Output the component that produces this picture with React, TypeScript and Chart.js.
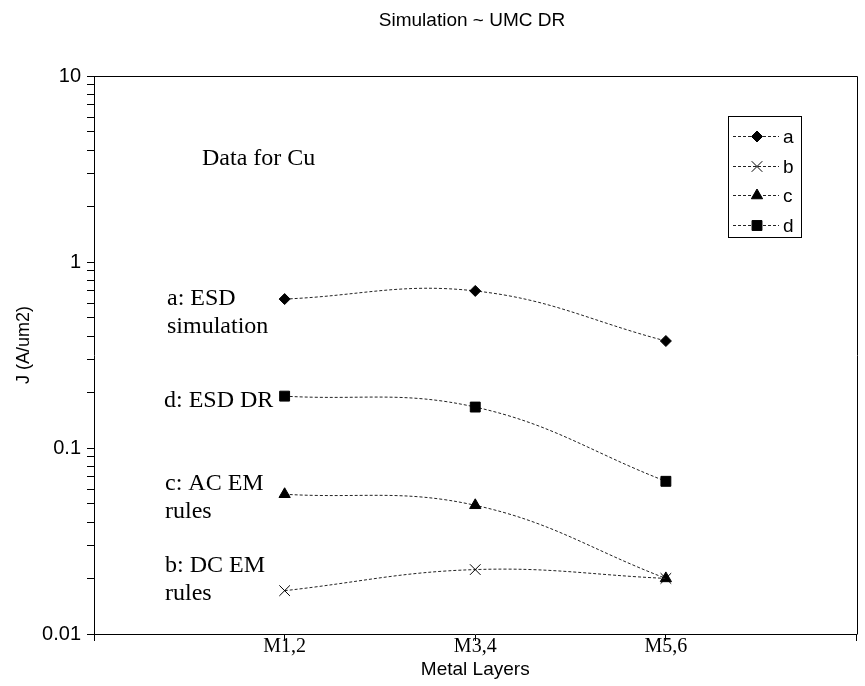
import { useEffect, useRef } from "react";
import { Chart, registerables } from "chart.js";
import { drawPoint } from "chart.js/helpers";

Chart.register(...registerables);

// Metal layer groups along the x axis
const categories = ["M1,2", "M3,4", "M5,6"];

// Current density limits J (A/um2) for copper
const seriesNames = ["a", "b", "c", "d"];
const seriesA = [0.632, 0.699, 0.376]; // ESD simulation
const seriesB = [0.0171, 0.0222, 0.0199]; // DC EM rules
const seriesC = [0.0564, 0.0492, 0.0199]; // AC EM rules
const seriesD = [0.19, 0.166, 0.0662]; // ESD DR

// Log axis decades; minor ticks at 2..9 of each decade
const yMajorTicks = [0.01, 0.1, 1, 10];
const yMinorSteps = [2, 3, 4, 5, 6, 7, 8, 9];

const titleText = "Simulation ~ UMC DR";
const xTitle = "Metal Layers";
const yTitle = "J (A/um2)";

const SANS = "'Liberation Sans', Arial, sans-serif";
const SERIF = "'Liberation Serif', 'Times New Roman', serif";

const pointStyles = ["rectRot", "crossRot", "triangle", "rect"] as const;
const pointRadii = [5.5, 7.5, 6.5, 7];

const toPoints = (vals: number[]) => vals.map((v, i) => ({ x: i + 1, y: v }));

// In-plot text notes: [text, left, baseline]
const notes: [string, number, number][] = [
  ["Data for Cu", 202, 165],
  ["a: ESD", 167, 305],
  ["simulation", 167, 333],
  ["d: ESD DR", 164, 407],
  ["c: AC EM", 165, 490],
  ["rules", 165, 518],
  ["b: DC EM", 165, 572],
  ["rules", 165, 600],
];

const framePlugin = {
  id: "frame",
  afterDraw(chart: any) {
    const { ctx, chartArea } = chart;
    ctx.save();
    ctx.strokeStyle = "#000";
    ctx.lineWidth = 1;
    ctx.beginPath();
    ctx.moveTo(Math.round(chartArea.left) + 0.5, Math.round(chartArea.top) + 0.5);
    ctx.lineTo(Math.round(chartArea.right) + 0.5, Math.round(chartArea.top) + 0.5);
    ctx.lineTo(Math.round(chartArea.right) + 0.5, Math.round(chartArea.bottom) + 0.5);
    ctx.stroke();

    // titles
    ctx.fillStyle = "#000";
    ctx.font = `19px ${SANS}`;
    ctx.textAlign = "center";
    ctx.textBaseline = "alphabetic";
    ctx.fillText(titleText, 472, 26);

    ctx.font = `19px ${SANS}`;
    ctx.fillText(xTitle, (chartArea.left + chartArea.right) / 2, 675);

    ctx.save();
    ctx.translate(29, 345);
    ctx.rotate(-Math.PI / 2);
    ctx.font = `18px ${SANS}`;
    ctx.fillText(yTitle, 0, 0);
    ctx.restore();

    // notes inside plot
    ctx.font = `24px ${SERIF}`;
    ctx.textAlign = "left";
    for (const [t, x, y] of notes) ctx.fillText(t, x, y);
    ctx.restore();
  },
};

const legendPlugin = {
  id: "boxLegend",
  afterDraw(chart: any) {
    const { ctx } = chart;
    const box = { left: 728, top: 116, right: 801, bottom: 237 };
    ctx.save();
    ctx.fillStyle = "#fff";
    ctx.fillRect(box.left, box.top, box.right - box.left, box.bottom - box.top);
    ctx.strokeStyle = "#000";
    ctx.lineWidth = 1;
    ctx.strokeRect(box.left + 0.5, box.top + 0.5, box.right - box.left, box.bottom - box.top);
    const rowH = 29.7;
    chart.data.datasets.forEach((ds: any, i: number) => {
      const y = Math.round(box.top + 20 + i * rowH) + 0.5;
      ctx.strokeStyle = "#222";
      ctx.setLineDash([3, 2]);
      ctx.beginPath();
      ctx.moveTo(box.left + 5, y);
      ctx.lineTo(box.left + 51, y);
      ctx.stroke();
      ctx.setLineDash([]);
      ctx.fillStyle = "#000";
      ctx.strokeStyle = "#000";
      drawPoint(
        ctx,
        { pointStyle: ds.pointStyle, radius: ds.pointRadius, rotation: 0, borderWidth: 1 } as any,
        box.left + 29,
        y
      );
      ctx.fillStyle = "#000";
      ctx.font = `19px ${SANS}`;
      ctx.textAlign = "left";
      ctx.textBaseline = "middle";
      ctx.fillText(ds.label, box.left + 55, y + 1);
    });
    ctx.restore();
  },
};

export default function App() {
  const ref = useRef<HTMLCanvasElement>(null);

  useEffect(() => {
    const canvas = ref.current;
    if (!canvas) return;
    const allSeries = [seriesA, seriesB, seriesC, seriesD];
    const yTicks: number[] = [];
    yMajorTicks.forEach((m, i) => {
      yTicks.push(m);
      if (i < yMajorTicks.length - 1) yMinorSteps.forEach((s) => yTicks.push(+(m * s).toPrecision(3)));
    });

    const chart = new Chart(canvas, {
      type: "line",
      data: {
        datasets: allSeries.map((vals, i) => ({
          label: seriesNames[i],
          data: toPoints(vals),
          borderColor: "#222",
          borderWidth: 1,
          borderDash: [3, 2],
          tension: 0.4,
          fill: false,
          pointStyle: pointStyles[i],
          pointRadius: pointRadii[i],
          pointBackgroundColor: "#000",
          pointBorderColor: "#000",
          pointBorderWidth: 1,
        })),
      },
      options: {
        responsive: false,
        devicePixelRatio: 1,
        animation: false,
        events: [],
        layout: { padding: { top: 76, right: 7, left: 0, bottom: 0 } },
        plugins: {
          legend: { display: false },
          tooltip: { enabled: false },
          title: { display: false },
        },
        scales: {
          x: {
            type: "linear",
            min: 0,
            max: categories.length + 1,
            afterBuildTicks: (scale: any) => {
              scale.ticks = [0, 1, 2, 3, 4].map((v) => ({ value: v }));
            },
            afterFit: (scale: any) => {
              scale.height = 52;
            },
            ticks: {
              autoSkip: false,
              maxRotation: 0,
              padding: -6,
              color: "#000",
              font: { family: SERIF, size: 20 },
              callback: (v: any) => categories[Number(v) - 1] ?? "",
            },
            grid: {
              display: true,
              drawOnChartArea: false,
              drawTicks: true,
              tickLength: 7,
              tickColor: "#000",
              tickWidth: 1,
            },
            border: { display: true, color: "#000", width: 1 },
          },
          y: {
            type: "logarithmic",
            min: yMajorTicks[0],
            max: yMajorTicks[yMajorTicks.length - 1],
            afterBuildTicks: (scale: any) => {
              scale.ticks = yTicks.map((v) => ({ value: v, major: yMajorTicks.includes(v) }));
            },
            afterFit: (scale: any) => {
              scale.width = 94;
            },
            ticks: {
              autoSkip: false,
              padding: 6,
              color: "#000",
              font: { family: SANS, size: 20 },
              callback: (v: any) => (yMajorTicks.includes(Number(v)) ? String(Number(v)) : ""),
            },
            grid: {
              display: true,
              drawOnChartArea: false,
              drawTicks: true,
              tickLength: 7,
              tickColor: "#000",
              tickWidth: 1,
            },
            border: { display: true, color: "#000", width: 1 },
          },
        },
      } as any,
      plugins: [framePlugin, legendPlugin],
    });
    return () => chart.destroy();
  }, []);

  return (
    <div style={{ position: "fixed", left: 0, top: 0, width: 865, height: 686, background: "#fff" }}>
      <canvas ref={ref} width={865} height={686} style={{ display: "block", width: 865, height: 686 }} />
    </div>
  );
}
